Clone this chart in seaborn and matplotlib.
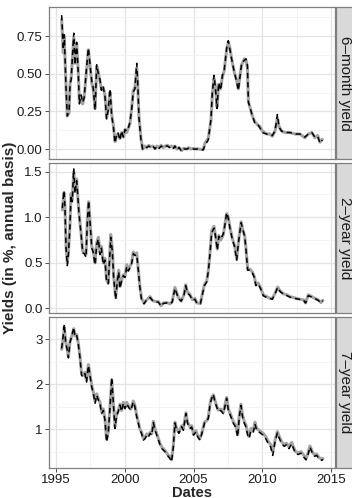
import matplotlib
matplotlib.use("Agg")
import matplotlib.pyplot as plt
import numpy as np
import pandas as pd
import seaborn as sns
from matplotlib.patches import Rectangle

# ---------------- data (annual percentage yields) ----------------
dates_6m = [
    1995.41, 1995.53, 1995.60, 1995.73, 1995.82, 1995.95, 1996.02, 1996.10, 1996.29, 1996.38,
    1996.50, 1996.62, 1996.70, 1996.82, 1996.94, 1997.05, 1997.20, 1997.35, 1997.40, 1997.60,
    1997.70, 1997.84, 1997.96, 1998.08, 1998.20, 1998.30, 1998.42, 1998.56, 1998.68, 1998.80,
    1998.93, 1999.05, 1999.17, 1999.29, 1999.40, 1999.50, 1999.65, 1999.77, 1999.90, 2000.02,
    2000.14, 2000.26, 2000.38, 2000.50, 2000.62, 2000.74, 2000.87, 2000.94, 2001.03, 2001.18,
    2001.30, 2001.45, 2001.60, 2001.75, 2001.90, 2002.05, 2002.20, 2002.35, 2002.50, 2002.65,
    2002.80, 2002.95, 2003.10, 2003.25, 2003.40, 2003.55, 2003.65, 2003.80, 2003.95, 2004.14,
    2004.30, 2004.50, 2004.65, 2004.80, 2004.95, 2005.10, 2005.30, 2005.50, 2005.71, 2005.83,
    2006.07, 2006.27, 2006.37, 2006.49, 2006.60, 2006.71, 2006.83, 2006.97, 2007.10, 2007.23,
    2007.41, 2007.53, 2007.65, 2007.77, 2007.97, 2008.13, 2008.26, 2008.38, 2008.50, 2008.70,
    2008.82, 2008.92, 2008.99, 2009.10, 2009.28, 2009.47, 2009.67, 2009.83, 2010.00, 2010.32,
    2010.56, 2010.73, 2010.93, 2011.10, 2011.22, 2011.40, 2011.65, 2012.00, 2012.38, 2012.74,
    2013.10, 2013.35, 2013.60, 2013.83, 2014.03, 2014.20, 2014.37]
observed_6m = [
    0.86, 0.64, 0.75, 0.41, 0.22, 0.24, 0.44, 0.47, 0.74, 0.57,
    0.70, 0.51, 0.31, 0.35, 0.30, 0.35, 0.50, 0.66, 0.62, 0.44,
    0.40, 0.27, 0.55, 0.51, 0.45, 0.40, 0.41, 0.36, 0.21, 0.27,
    0.38, 0.23, 0.16, 0.05, 0.09, 0.10, 0.07, 0.11, 0.08, 0.13,
    0.11, 0.14, 0.17, 0.27, 0.39, 0.41, 0.54, 0.44, 0.22, 0.07,
    0.00, 0.02, 0.01, 0.025, 0.015, 0.02, 0.005, 0.02, 0.01, 0.025,
    0.01, 0.02, 0.025, 0.015, 0.02, 0.01, 0.02, 0.0, 0.01, -0.01,
    0.005, 0.0, 0.01, 0.0, 0.005, 0.0, 0.002, -0.002, -0.003, 0.04,
    0.07, 0.19, 0.36, 0.47, 0.41, 0.28, 0.43, 0.40, 0.48, 0.52,
    0.66, 0.71, 0.67, 0.60, 0.51, 0.46, 0.40, 0.49, 0.56, 0.60,
    0.59, 0.54, 0.32, 0.28, 0.22, 0.18, 0.16, 0.15, 0.12, 0.10,
    0.10, 0.085, 0.12, 0.21, 0.15, 0.12, 0.11, 0.11, 0.10, 0.10,
    0.075, 0.10, 0.11, 0.075, 0.09, 0.045, 0.065]
fitted_6m = [
    0.89, 0.66, 0.76, 0.40, 0.22, 0.25, 0.43, 0.46, 0.77, 0.56,
    0.71, 0.50, 0.30, 0.36, 0.31, 0.34, 0.52, 0.67, 0.63, 0.45,
    0.41, 0.26, 0.56, 0.50, 0.46, 0.39, 0.42, 0.35, 0.20, 0.26,
    0.40, 0.22, 0.15, 0.04, 0.09, 0.11, 0.06, 0.12, 0.08, 0.13,
    0.12, 0.14, 0.18, 0.26, 0.38, 0.40, 0.57, 0.45, 0.21, 0.06,
    0.00, 0.015, 0.01, 0.02, 0.01, 0.02, 0.0, 0.02, 0.005, 0.02,
    0.01, 0.02, 0.02, 0.01, 0.02, 0.005, 0.02, -0.005, 0.01, -0.015,
    0.0, 0.0, 0.005, 0.0, 0.0, 0.0, 0.0, -0.005, -0.005, 0.025,
    0.06, 0.20, 0.38, 0.49, 0.40, 0.27, 0.44, 0.39, 0.49, 0.52,
    0.67, 0.72, 0.66, 0.60, 0.51, 0.45, 0.39, 0.48, 0.57, 0.59,
    0.60, 0.56, 0.31, 0.28, 0.22, 0.17, 0.165, 0.14, 0.11, 0.10,
    0.095, 0.09, 0.12, 0.23, 0.145, 0.12, 0.11, 0.11, 0.10, 0.10,
    0.08, 0.10, 0.11, 0.08, 0.085, 0.04, 0.06]

dates_2y = [
    1995.46, 1995.58, 1995.65, 1995.73, 1995.82, 1995.90, 1996.02, 1996.09, 1996.18, 1996.29,
    1996.38, 1996.50, 1996.58, 1996.67, 1996.82, 1996.94, 1997.06, 1997.18, 1997.28, 1997.37,
    1997.45, 1997.60, 1997.70, 1997.84, 1997.96, 1998.08, 1998.20, 1998.30, 1998.44, 1998.56,
    1998.68, 1998.80, 1998.98, 1999.10, 1999.19, 1999.34, 1999.46, 1999.56, 1999.65, 1999.77,
    1999.90, 2000.02, 2000.14, 2000.26, 2000.38, 2000.50, 2000.62, 2000.74, 2000.87, 2000.99,
    2001.10, 2001.22, 2001.40, 2001.57, 2001.84, 2002.00, 2002.20, 2002.44, 2002.64, 2002.80,
    2003.05, 2003.30, 2003.45, 2003.65, 2003.90, 2004.10, 2004.30, 2004.43, 2004.56, 2004.75,
    2004.93, 2005.10, 2005.24, 2005.50, 2005.60, 2005.79, 2005.96, 2006.08, 2006.20, 2006.32,
    2006.49, 2006.60, 2006.73, 2006.84, 2006.98, 2007.17, 2007.28, 2007.41, 2007.53, 2007.65,
    2007.82, 2008.00, 2008.14, 2008.26, 2008.46, 2008.60, 2008.72, 2008.82, 2008.94, 2009.10,
    2009.28, 2009.42, 2009.54, 2009.70, 2009.90, 2010.07, 2010.32, 2010.56, 2010.73, 2010.93,
    2011.12, 2011.30, 2011.55, 2011.80, 2012.00, 2012.25, 2012.50, 2012.74, 2013.00, 2013.15,
    2013.35, 2013.60, 2013.83, 2014.10, 2014.27, 2014.40]
observed_2y = [
    1.08, 1.27, 1.12, 0.68, 0.50, 0.60, 0.94, 1.26, 1.19, 1.50,
    1.28, 1.42, 1.23, 1.05, 0.83, 0.63, 0.61, 0.59, 0.97, 1.17,
    1.01, 0.68, 0.64, 0.50, 0.72, 0.78, 0.61, 0.68, 0.50, 0.55,
    0.31, 0.28, 0.81, 0.64, 0.36, 0.12, 0.31, 0.42, 0.24, 0.31,
    0.37, 0.35, 0.48, 0.42, 0.46, 0.50, 0.62, 0.59, 0.61, 0.42,
    0.24, 0.11, 0.06, 0.09, 0.13, 0.09, 0.075, 0.075, 0.03, 0.06,
    0.065, 0.05, 0.075, 0.23, 0.12, 0.08, 0.15, 0.26, 0.18, 0.15,
    0.095, 0.11, 0.06, 0.055, 0.13, 0.26, 0.30, 0.42, 0.61, 0.85,
    0.90, 0.80, 0.65, 0.80, 0.75, 0.81, 0.92, 1.04, 1.00, 0.89,
    0.77, 0.68, 0.54, 0.72, 0.95, 0.85, 0.80, 0.65, 0.43, 0.43,
    0.40, 0.35, 0.26, 0.28, 0.22, 0.15, 0.13, 0.11, 0.11, 0.165,
    0.235, 0.19, 0.16, 0.15, 0.13, 0.12, 0.11, 0.10, 0.095, 0.06,
    0.15, 0.13, 0.11, 0.09, 0.065, 0.09]
fitted_2y = [
    1.10, 1.29, 1.11, 0.66, 0.47, 0.59, 0.92, 1.24, 1.17, 1.53,
    1.26, 1.40, 1.25, 1.04, 0.82, 0.61, 0.60, 0.56, 0.95, 1.18,
    1.00, 0.66, 0.62, 0.48, 0.70, 0.76, 0.59, 0.66, 0.48, 0.53,
    0.29, 0.27, 0.78, 0.62, 0.34, 0.10, 0.30, 0.40, 0.22, 0.30,
    0.36, 0.34, 0.46, 0.41, 0.45, 0.49, 0.60, 0.58, 0.59, 0.41,
    0.23, 0.10, 0.05, 0.09, 0.12, 0.09, 0.07, 0.07, 0.025, 0.055,
    0.06, 0.05, 0.07, 0.22, 0.11, 0.08, 0.14, 0.25, 0.17, 0.14,
    0.09, 0.10, 0.06, 0.05, 0.12, 0.25, 0.29, 0.41, 0.60, 0.83,
    0.88, 0.79, 0.64, 0.79, 0.76, 0.82, 0.91, 1.05, 0.99, 0.88,
    0.76, 0.67, 0.53, 0.71, 0.94, 0.86, 0.79, 0.64, 0.42, 0.42,
    0.39, 0.34, 0.25, 0.27, 0.21, 0.14, 0.12, 0.11, 0.10, 0.16,
    0.23, 0.185, 0.155, 0.14, 0.125, 0.115, 0.105, 0.10, 0.09, 0.06,
    0.14, 0.125, 0.11, 0.085, 0.06, 0.085]

dates_7y = [
    1995.41, 1995.53, 1995.60, 1995.70, 1995.82, 1995.90, 1996.02, 1996.14, 1996.29, 1996.38,
    1996.50, 1996.62, 1996.74, 1996.86, 1996.98, 1997.10, 1997.22, 1997.35, 1997.43, 1997.60,
    1997.72, 1997.84, 1997.96, 1998.08, 1998.20, 1998.32, 1998.44, 1998.56, 1998.68, 1998.80,
    1998.93, 1999.05, 1999.17, 1999.29, 1999.40, 1999.53, 1999.65, 1999.77, 1999.90, 2000.02,
    2000.14, 2000.26, 2000.44, 2000.62, 2000.74, 2000.87, 2000.99, 2001.10, 2001.22, 2001.35,
    2001.47, 2001.60, 2001.72, 2001.84, 2001.96, 2002.08, 2002.20, 2002.33, 2002.45, 2002.57,
    2002.70, 2002.80, 2002.93, 2003.10, 2003.29, 2003.40, 2003.53, 2003.65, 2003.77, 2003.94,
    2004.14, 2004.26, 2004.45, 2004.57, 2004.75, 2004.87, 2005.00, 2005.17, 2005.31, 2005.47,
    2005.65, 2005.80, 2005.96, 2006.08, 2006.20, 2006.32, 2006.44, 2006.56, 2006.68, 2006.80,
    2006.97, 2007.17, 2007.28, 2007.41, 2007.53, 2007.72, 2007.90, 2008.07, 2008.21, 2008.33,
    2008.45, 2008.57, 2008.70, 2008.82, 2008.94, 2009.04, 2009.18, 2009.35, 2009.47, 2009.59,
    2009.76, 2009.90, 2010.07, 2010.24, 2010.44, 2010.61, 2010.76, 2010.93, 2011.10, 2011.24,
    2011.41, 2011.60, 2011.77, 2011.94, 2012.14, 2012.26, 2012.43, 2012.62, 2012.82, 2013.00,
    2013.18, 2013.35, 2013.47, 2013.64, 2013.80, 2013.96, 2014.13, 2014.33, 2014.42]
observed_7y = [
    2.78, 3.05, 3.28, 2.96, 2.78, 2.62, 2.96, 3.07, 3.24, 3.08,
    3.11, 2.92, 2.63, 2.24, 2.20, 2.27, 2.09, 2.44, 2.31, 1.97,
    1.82, 1.62, 1.79, 1.68, 1.60, 1.39, 1.45, 1.24, 0.78, 0.95,
    1.52, 2.10, 1.60, 1.06, 1.31, 1.42, 1.56, 1.42, 1.60, 1.49,
    1.60, 1.53, 1.45, 1.63, 1.53, 1.31, 1.16, 1.01, 0.94, 0.80,
    0.82, 0.90, 0.86, 0.93, 0.90, 1.18, 1.01, 0.90, 0.79, 0.68,
    0.60, 0.57, 0.53, 0.45, 0.38, 0.32, 0.63, 1.16, 1.02, 0.94,
    1.08, 1.01, 1.37, 1.16, 1.05, 1.08, 0.90, 0.97, 0.86, 0.79,
    0.97, 1.16, 1.19, 1.27, 1.57, 1.71, 1.77, 1.64, 1.53, 1.43,
    1.45, 1.38, 1.53, 1.71, 1.46, 1.31, 1.17, 1.09, 0.88, 1.31,
    1.56, 1.31, 1.17, 1.09, 0.91, 0.84, 1.02, 0.98, 1.16, 1.02,
    0.98, 0.95, 0.91, 0.84, 0.73, 0.66, 0.50, 0.76, 0.95, 0.84,
    0.72, 0.66, 0.69, 0.61, 0.71, 0.61, 0.50, 0.48, 0.50, 0.43,
    0.35, 0.49, 0.63, 0.50, 0.43, 0.45, 0.37, 0.34, 0.35]
fitted_7y = [
    2.80, 3.10, 3.34, 2.94, 2.76, 2.59, 2.94, 3.06, 3.27, 3.07,
    3.10, 2.90, 2.60, 2.20, 2.17, 2.24, 2.05, 2.42, 2.28, 1.94,
    1.79, 1.58, 1.76, 1.65, 1.57, 1.35, 1.42, 1.20, 0.72, 0.92,
    1.50, 2.15, 1.57, 1.02, 1.29, 1.40, 1.54, 1.40, 1.58, 1.46,
    1.57, 1.50, 1.42, 1.61, 1.50, 1.28, 1.13, 0.98, 0.91, 0.76,
    0.79, 0.87, 0.83, 0.91, 0.87, 1.15, 0.98, 0.87, 0.76, 0.65,
    0.57, 0.54, 0.50, 0.42, 0.35, 0.28, 0.60, 1.14, 1.00, 0.91,
    1.06, 0.98, 1.35, 1.13, 1.02, 1.05, 0.87, 0.94, 0.83, 0.76,
    0.95, 1.14, 1.17, 1.25, 1.55, 1.69, 1.78, 1.61, 1.50, 1.40,
    1.42, 1.35, 1.50, 1.69, 1.42, 1.28, 1.13, 1.05, 0.83, 1.28,
    1.53, 1.27, 1.13, 1.05, 0.87, 0.80, 0.98, 0.94, 1.12, 0.98,
    0.94, 0.91, 0.87, 0.80, 0.68, 0.61, 0.42, 0.72, 0.92, 0.80,
    0.68, 0.62, 0.66, 0.57, 0.68, 0.58, 0.46, 0.44, 0.47, 0.39,
    0.32, 0.46, 0.61, 0.47, 0.40, 0.42, 0.34, 0.31, 0.33]

facet_labels = ["6\u2013month yield", "2\u2013year yield", "7\u2013year yield"]
x_ticks = [1995, 2000, 2005, 2010, 2015]

# ---------------- figure ----------------
sns.set_theme(style="white")
plt.rcParams['font.family'] = ['Liberation Sans', 'DejaVu Sans']

W, H = 352, 498
fig = plt.figure(figsize=(W / 100, H / 100), dpi=100)
fig.patch.set_facecolor("white")

left_px, right_px = 49, 335
panel_rows = [(7, 159), (163, 313), (317, 468)]

series = [
    (dates_6m, observed_6m, fitted_6m),
    (dates_2y, observed_2y, fitted_2y),
    (dates_7y, observed_7y, fitted_7y),
]
y_setup = [
    dict(lim=(-0.066, 0.944), major=[0.0, 0.25, 0.5, 0.75],
         minor=[0.125, 0.375, 0.625, 0.875], fmt="{:.2f}"),
    dict(lim=(-0.05, 1.595), major=[0.0, 0.5, 1.0, 1.5],
         minor=[0.25, 0.75, 1.25], fmt="{:.1f}"),
    dict(lim=(0.14, 3.5), major=[1, 2, 3],
         minor=[0.5, 1.5, 2.5, 3.5], fmt="{:.0f}"),
]

border = "#7F7F7F"
for i, ((d, obs, fit), (top, bot), ys, lab) in enumerate(
        zip(series, panel_rows, y_setup, facet_labels)):
    ax = fig.add_axes([left_px / W, 1 - bot / H,
                       (right_px - left_px) / W, (bot - top) / H])
    df = pd.DataFrame({
        "Dates": list(d) * 2,
        "Yield": list(obs) + list(fit),
        "Series": ["observed"] * len(d) + ["fitted"] * len(d),
    })
    sns.lineplot(data=df, x="Dates", y="Yield", hue="Series", style="Series",
                 size="Series", hue_order=["observed", "fitted"],
                 palette={"observed": "#A3A3A3", "fitted": "black"},
                 dashes={"observed": "", "fitted": (3.5, 2.5)},
                 sizes={"observed": 2.2, "fitted": 1.1},
                 estimator=None, legend=False, ax=ax)

    ax.set_xlim(1994.49, 2015.29)
    ax.set_ylim(*ys["lim"])
    ax.set_xticks(x_ticks)
    ax.set_xticks([1997.5, 2002.5, 2007.5, 2012.5], minor=True)
    ax.set_yticks(ys["major"])
    ax.set_yticks(ys["minor"], minor=True)
    ax.set_yticklabels([ys["fmt"].format(v) for v in ys["major"]])
    ax.grid(which="major", color="#E3E3E3", lw=0.9)
    ax.grid(which="minor", color="#F3F3F3", lw=0.6)
    ax.set_axisbelow(True)
    for sp in ax.spines.values():
        sp.set_color(border)
        sp.set_linewidth(0.9)
    ax.tick_params(axis="y", which="major", direction="out", length=3,
                   width=0.6, color="#333333", labelsize=9.5,
                   labelcolor="#1A1A1A", pad=1.5, left=True)
    ax.tick_params(which="minor", length=0)
    ax.set_ylabel("")
    ax.set_xlabel("")
    if i < 2:
        ax.tick_params(axis="x", which="major", length=0, labelbottom=False)
    else:
        ax.tick_params(axis="x", which="major", direction="out", length=3,
                       width=0.6, color="#333333", labelsize=9.5,
                       labelcolor="#1A1A1A", pad=1.0, bottom=True)
        ax.set_xticklabels([str(t) for t in x_ticks])

    # facet strip on the right
    fig.add_artist(Rectangle((336 / W, 1 - bot / H), 20 / W, (bot - top) / H,
                             transform=fig.transFigure, facecolor="#D9D9D9",
                             edgecolor=border, lw=0.9))
    fig.text(344.5 / W, 1 - (top + bot) / 2 / H, lab, rotation=270,
             ha="center", va="center", fontsize=11, color="#1A1A1A")

fig.text(10 / W, 1 - 237.5 / H, "Yields (in %, annual basis)", rotation=90,
         ha="center", va="center", fontsize=11, fontweight="bold")
fig.text(192 / W, 1 - 492.5 / H, "Dates", ha="center", va="center",
         fontsize=10.5, fontweight="bold")

fig.savefig("out.png", dpi=100, facecolor="white")
